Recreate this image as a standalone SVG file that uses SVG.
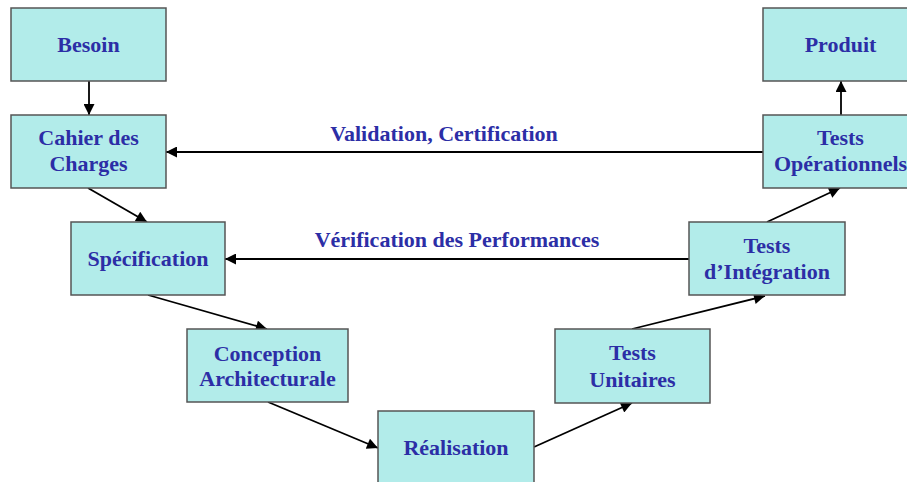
<svg xmlns="http://www.w3.org/2000/svg" width="907" height="482" viewBox="0 0 907 482">
<style>
.box{fill:#b2ecea;stroke:#555;stroke-width:1.5}
.t{font-family:"Liberation Serif","Times New Roman",serif;font-weight:bold;font-size:22px;fill:#2c2ea6;text-anchor:middle}
.c{stroke:#000;stroke-width:1.8;fill:none;marker-end:url(#ah)}
</style>
<defs>
<marker id="ah" viewBox="0 0 10 10" refX="10" refY="5" markerWidth="13" markerHeight="11" markerUnits="userSpaceOnUse" orient="auto">
<path d="M0,0 L10,5 L0,10 z" fill="#000"/>
</marker>
</defs>
<rect width="907" height="482" fill="#fff"/>
<g id="connectors">
<line class="c" x1="89" y1="81" x2="89" y2="115"/>
<line class="c" x1="88" y1="188" x2="147" y2="222"/>
<line class="c" x1="148" y1="295" x2="267" y2="329"/>
<line class="c" x1="268" y1="402" x2="378" y2="448"/>
<line class="c" x1="534" y1="447" x2="632" y2="403"/>
<line class="c" x1="632" y1="329" x2="765" y2="296"/>
<line class="c" x1="767" y1="222" x2="840" y2="188"/>
<line class="c" x1="841" y1="115" x2="841" y2="81"/>
<line class="c" x1="763" y1="152" x2="166" y2="152"/>
<line class="c" x1="689" y1="259" x2="225" y2="259"/>
<text class="t" x="444" y="141">Validation, Certification</text>
<text class="t" x="457" y="247">Vérification des Performances</text>
</g>
<g id="besoin"><rect class="box" x="11" y="8" width="155" height="73"/><text class="t" x="88.5" y="52">Besoin</text></g>
<g id="cahier"><rect class="box" x="11" y="115" width="155" height="73"/><text class="t" x="88.5" y="145">Cahier des</text><text class="t" x="88.5" y="171">Charges</text></g>
<g id="specification"><rect class="box" x="71" y="222" width="154" height="73"/><text class="t" x="148" y="266">Spécification</text></g>
<g id="conception"><rect class="box" x="187" y="329" width="161" height="73"/><text class="t" x="267.5" y="361">Conception</text><text class="t" x="267.5" y="386">Architecturale</text></g>
<g id="realisation"><rect class="box" x="378" y="411" width="156" height="73"/><text class="t" x="456" y="455">Réalisation</text></g>
<g id="tests-unitaires"><rect class="box" x="555" y="329" width="155" height="74"/><text class="t" x="632.5" y="360">Tests</text><text class="t" x="632.5" y="387">Unitaires</text></g>
<g id="tests-integration"><rect class="box" x="689" y="222" width="156" height="73"/><text class="t" x="767" y="253">Tests</text><text class="t" x="767" y="279">d’Intégration</text></g>
<g id="tests-operationnels"><rect class="box" x="763" y="115" width="155" height="73"/><text class="t" x="840.5" y="145">Tests</text><text class="t" x="840.5" y="171">Opérationnels</text></g>
<g id="produit"><rect class="box" x="763" y="8" width="155" height="73"/><text class="t" x="840.5" y="52">Produit</text></g>
</svg>
